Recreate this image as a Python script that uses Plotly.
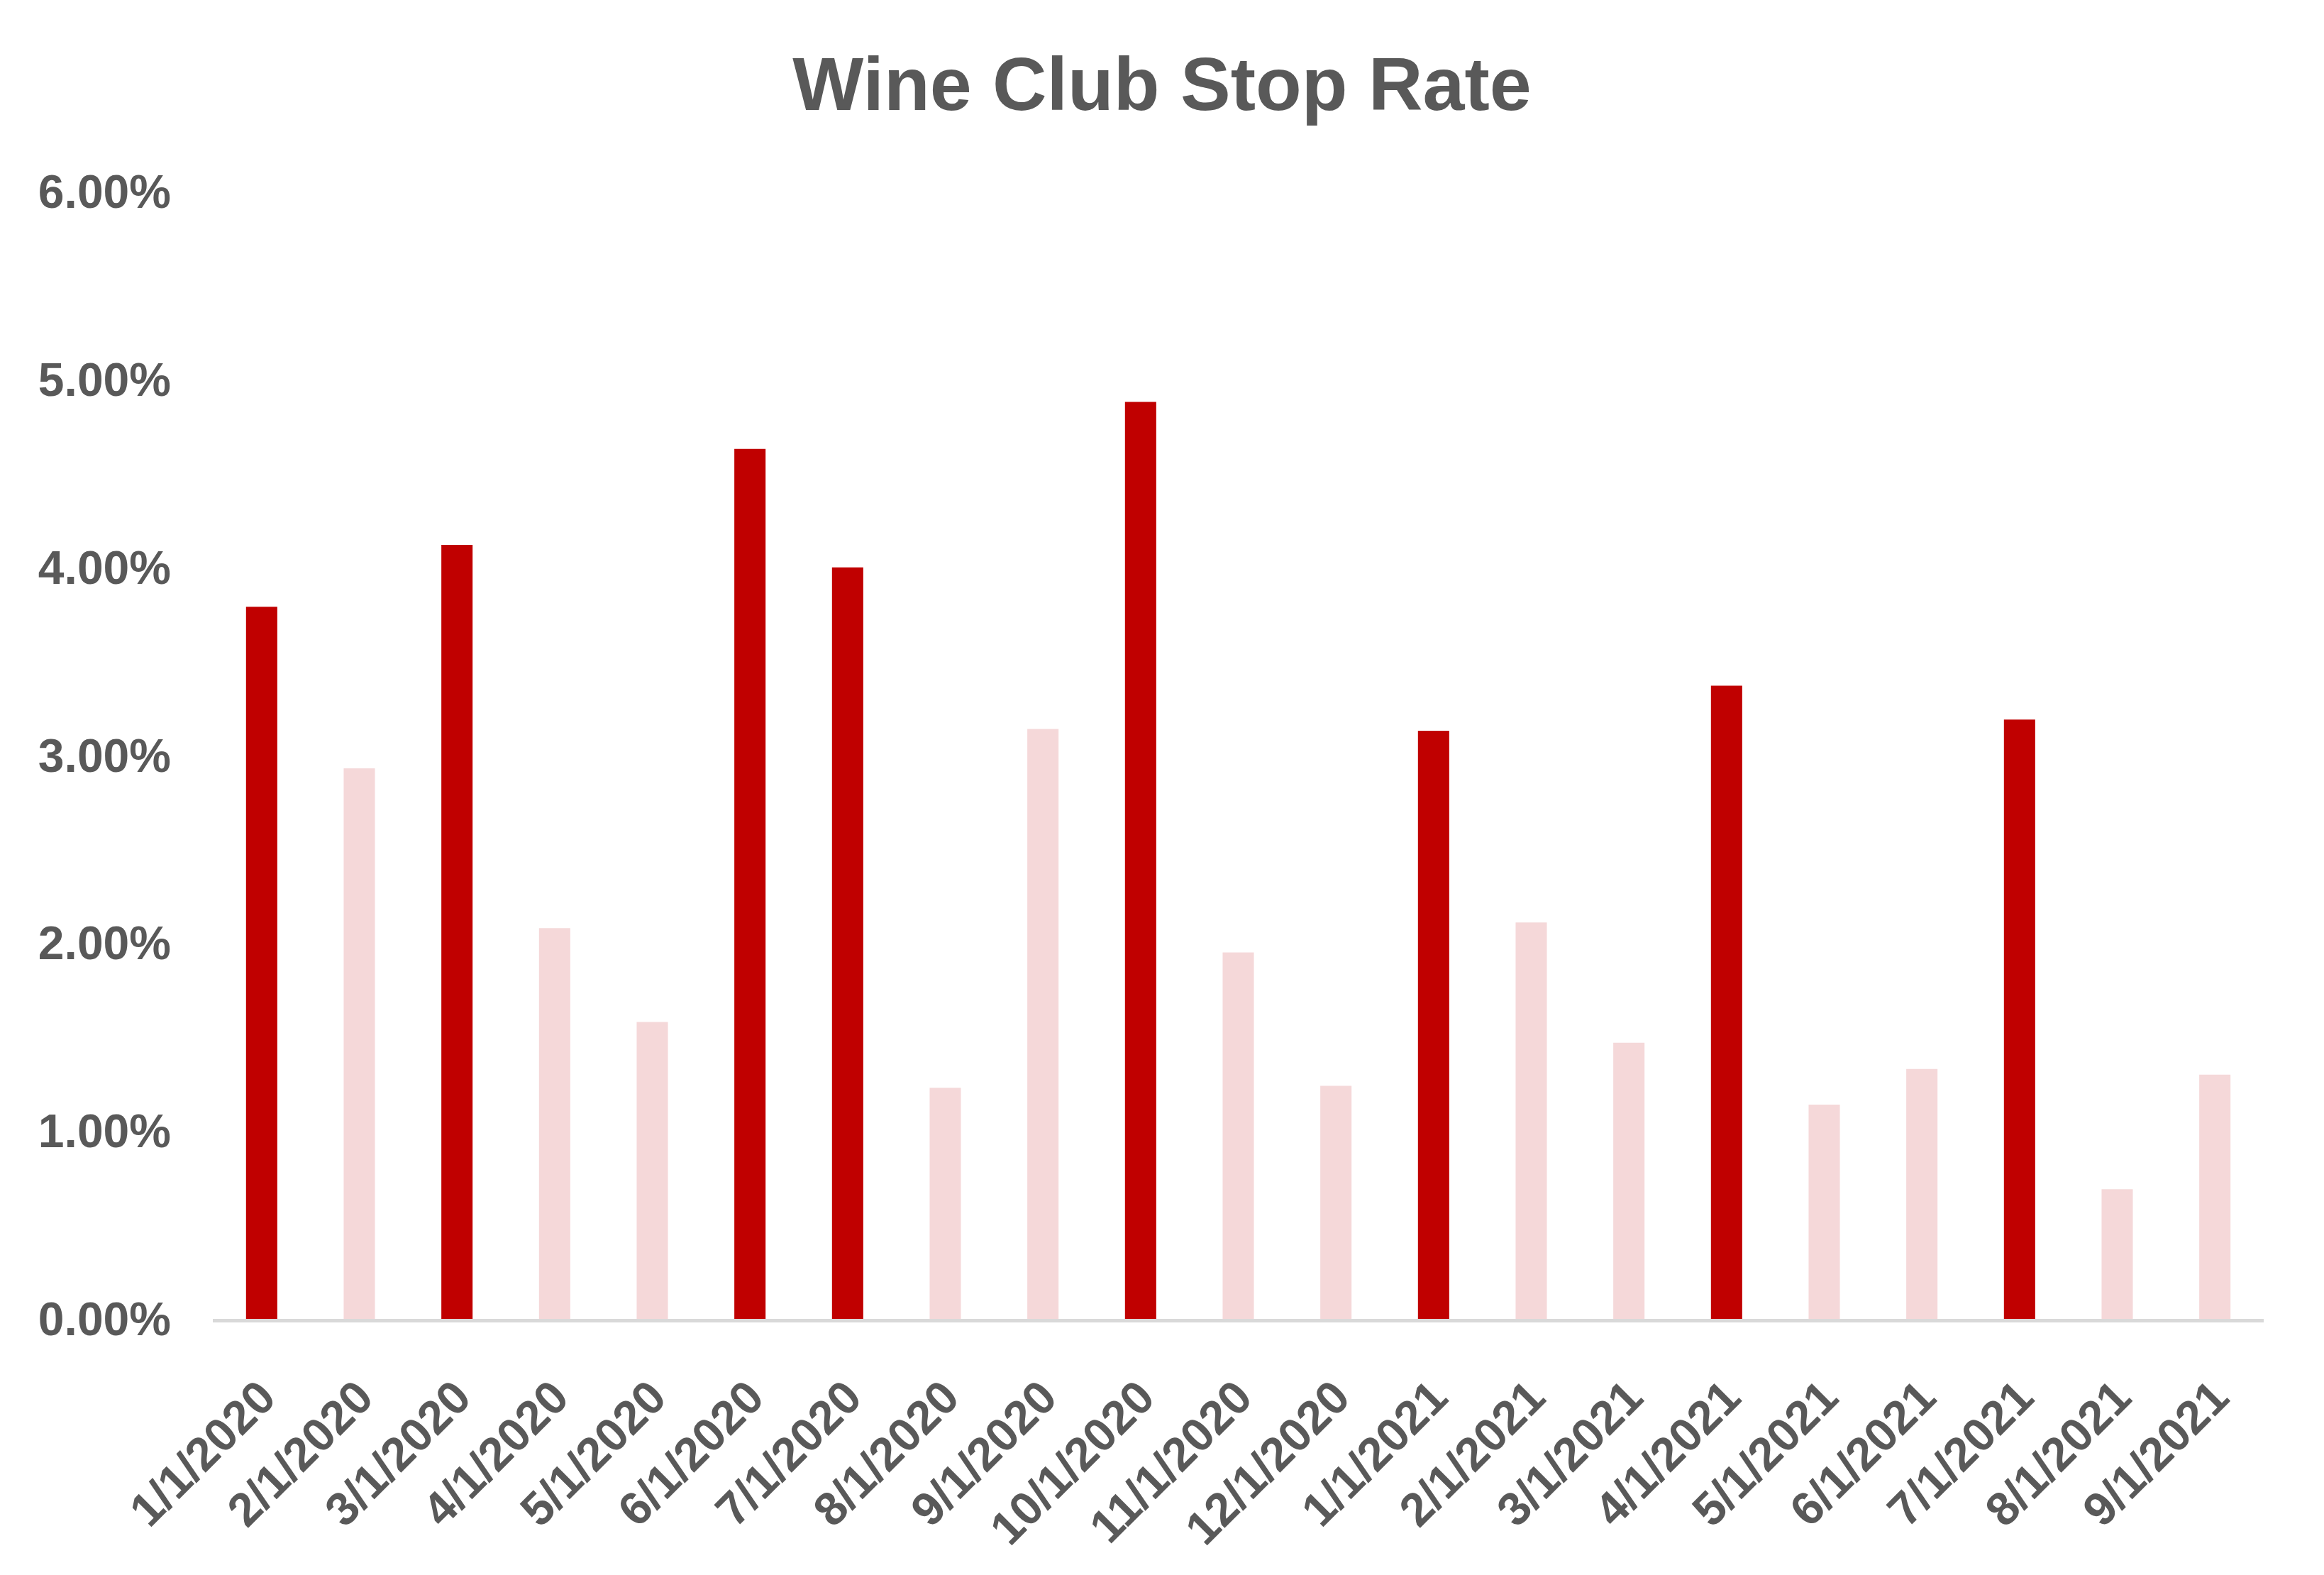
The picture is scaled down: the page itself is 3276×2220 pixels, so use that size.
import plotly.graph_objects as go

# data
months = ["1/1/2020", "2/1/2020", "3/1/2020", "4/1/2020", "5/1/2020", "6/1/2020",
          "7/1/2020", "8/1/2020", "9/1/2020", "10/1/2020", "11/1/2020", "12/1/2020",
          "1/1/2021", "2/1/2021", "3/1/2021", "4/1/2021", "5/1/2021", "6/1/2021",
          "7/1/2021", "8/1/2021", "9/1/2021"]
stop_rate = [0.0379, 0.0293, 0.0412, 0.0208, 0.0158, 0.0463,
             0.0400, 0.0123, 0.0314, 0.0488, 0.0195, 0.0124,
             0.0313, 0.0211, 0.0147, 0.0337, 0.0114, 0.0133,
             0.0319, 0.0069, 0.0130]
highlight = [1, 0, 1, 0, 0, 1, 1, 0, 0, 1, 0, 0, 1, 0, 0, 1, 0, 0, 1, 0, 0]

DARK = "#C00000"
LIGHT = "#F5D8D9"
TEXT = "#595959"
FONT = "Liberation Sans"

colors = [DARK if h else LIGHT for h in highlight]

fig = go.Figure()
fig.add_trace(go.Bar(
    x=months,
    y=stop_rate,
    marker=dict(color=colors, line=dict(width=0)),
    width=0.32,
))

fig.update_layout(
    width=3276,
    height=2220,
    paper_bgcolor="white",
    plot_bgcolor="white",
    showlegend=False,
    margin=dict(l=300, r=85, t=270, b=361),
    title=dict(
        text="Wine Club Stop Rate",
        x=0.5,
        xanchor="center",
        xref="container",
        y=0.947,
        yanchor="middle",
        yref="container",
        font=dict(family=FONT, size=106, color=TEXT, weight="bold"),
    ),
)

fig.update_xaxes(
    type="category",
    tickangle=-45,
    tickfont=dict(family=FONT, size=66, color=TEXT, weight="bold"),
    showline=True,
    linecolor="#D9D9D9",
    linewidth=5,
    showgrid=False,
    ticks="",
    ticklabelstandoff=40,
)

fig.update_yaxes(
    range=[0, 0.06],
    dtick=0.01,
    tickformat=".2%",
    tickfont=dict(family=FONT, size=66, color=TEXT, weight="bold"),
    showgrid=False,
    zeroline=False,
    showline=False,
    ticks="",
    ticklabelstandoff=58,
)

# drop the default page margin so the figure sits at the window corner
fig.write_html("out.html", config={"displayModeBar": False},
               post_script="document.body.style.margin='0';")
